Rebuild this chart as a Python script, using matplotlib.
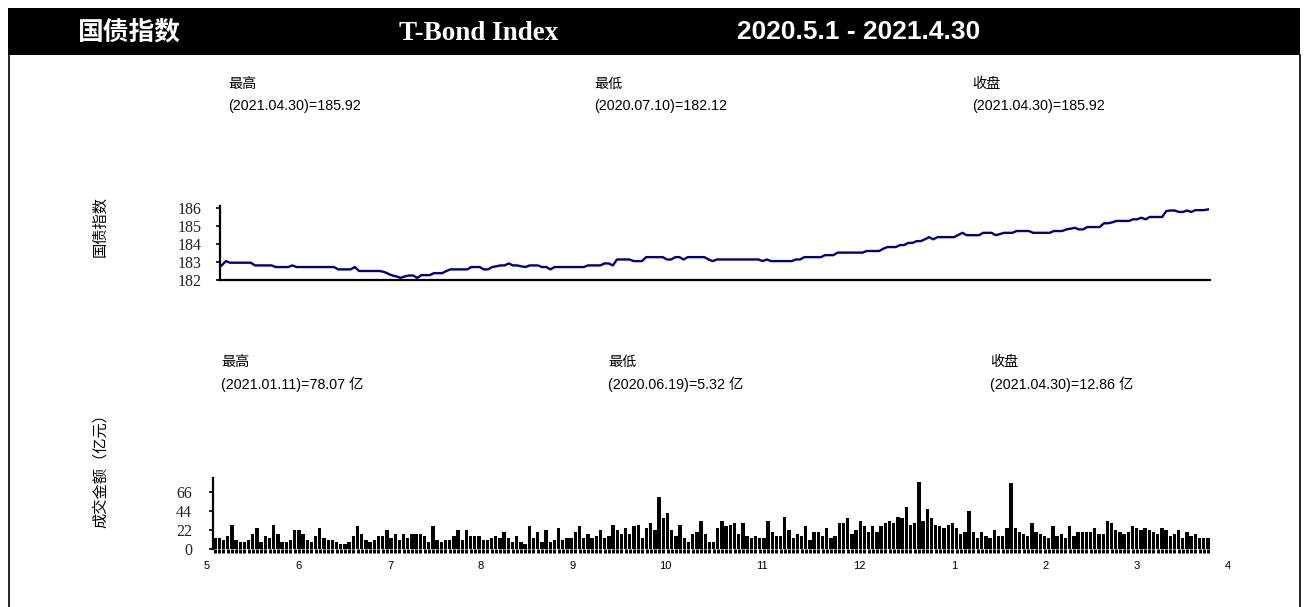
import matplotlib
matplotlib.use('Agg')
import matplotlib.pyplot as plt
from matplotlib.patches import Rectangle
from matplotlib.lines import Line2D

W, H = 1306, 607

# ---------------- data ----------------
index_values = [
    182.81, 183.05, 182.96, 182.96, 182.96, 182.96, 182.96, 182.96, 182.81, 182.81,
    182.81, 182.81, 182.81, 182.72, 182.72, 182.72, 182.72, 182.81, 182.72, 182.72,
    182.72, 182.72, 182.72, 182.72, 182.72, 182.72, 182.72, 182.72, 182.59, 182.59,
    182.59, 182.59, 182.72, 182.50, 182.50, 182.50, 182.50, 182.50, 182.50, 182.45,
    182.35, 182.25, 182.20, 182.12, 182.20, 182.25, 182.25, 182.12, 182.27, 182.27,
    182.27, 182.38, 182.38, 182.38, 182.50, 182.59, 182.59, 182.59, 182.59, 182.59,
    182.72, 182.72, 182.72, 182.59, 182.59, 182.72, 182.76, 182.81, 182.81, 182.92,
    182.81, 182.81, 182.76, 182.72, 182.81, 182.81, 182.81, 182.72, 182.72, 182.59,
    182.72, 182.72, 182.72, 182.72, 182.72, 182.72, 182.72, 182.72, 182.81, 182.81,
    182.81, 182.81, 182.92, 182.92, 182.81, 183.14, 183.14, 183.14, 183.14, 183.05,
    183.05, 183.05, 183.27, 183.27, 183.27, 183.27, 183.27, 183.14, 183.14, 183.27,
    183.27, 183.14, 183.27, 183.27, 183.27, 183.27, 183.27, 183.14, 183.05, 183.14,
    183.14, 183.14, 183.14, 183.14, 183.14, 183.14, 183.14, 183.14, 183.14, 183.14,
    183.05, 183.14, 183.05, 183.05, 183.05, 183.05, 183.05, 183.05, 183.14, 183.14,
    183.27, 183.27, 183.27, 183.27, 183.27, 183.38, 183.38, 183.38, 183.52, 183.52,
    183.52, 183.52, 183.52, 183.52, 183.52, 183.61, 183.61, 183.61, 183.61, 183.74,
    183.83, 183.83, 183.83, 183.94, 183.94, 184.06, 184.06, 184.16, 184.16, 184.26,
    184.38, 184.26, 184.38, 184.38, 184.38, 184.38, 184.38, 184.50, 184.62, 184.49,
    184.49, 184.49, 184.49, 184.62, 184.62, 184.62, 184.49, 184.55, 184.62, 184.62,
    184.62, 184.72, 184.72, 184.72, 184.72, 184.62, 184.62, 184.62, 184.62, 184.62,
    184.72, 184.72, 184.72, 184.81, 184.85, 184.90, 184.81, 184.81, 184.94, 184.94,
    184.94, 184.94, 185.15, 185.15, 185.20, 185.28, 185.28, 185.28, 185.28, 185.37,
    185.37, 185.46, 185.37, 185.50, 185.50, 185.50, 185.50, 185.83, 185.86, 185.86,
    185.78, 185.78, 185.86, 185.78, 185.88, 185.88, 185.88, 185.92,
]

turnover_values = [
    12.3, 12.3, 10, 14.6, 28, 10, 7.7, 7.7, 10, 16.9,
    23.8, 7.7, 14.6, 12.3, 28, 16.9, 7.7, 7.7, 10, 21.5,
    21.5, 16.9, 10, 7.7, 14.6, 23.8, 12.3, 10, 10, 7.7,
    5.6, 5.32, 7.7, 14.6, 26.2, 16.9, 10, 7.7, 10, 14.6,
    14.6, 21.5, 12.3, 16.9, 10, 16.9, 12.3, 16.9, 16.9, 16.9,
    14.6, 7.7, 26.2, 10, 7.7, 10, 10, 14.6, 21.5,
    10, 21.5, 14.6, 14.6, 14.6, 10, 10, 12.3, 14.6, 12.3,
    19.2, 12.3, 7.7, 14.6, 7.7, 5.8, 26.2, 12.3, 19.2, 7.7,
    21.5, 7.7, 10, 23.8, 10, 12.3, 12.3, 19.2, 26.2, 12.3,
    16.9, 12.3, 14.6, 21.5, 12.3, 14.6, 28, 21.5, 16.9, 23.8,
    16.9, 26.2, 28, 12.3, 23.8, 30.4, 21.5, 60.4, 35.4, 41.9,
    21.5, 14.6, 28, 12.3, 7.7, 16.9, 19.2, 32.7, 16.9,
    7.7, 7.7, 23.8, 32.7, 26.2, 28, 30.4, 16.9, 30.4, 14.6,
    12.3, 14.6, 12.3, 12.3, 32.7, 19.2, 14.6, 14.6, 37.3, 21.5,
    12.3, 16.9, 14.6, 26.2, 10, 19.2, 19.2, 14.6, 23.8, 12.3,
    14.6, 30.4, 30.4, 35.4, 16.9, 21.5, 32.7, 26.2, 19.2, 26.2,
    19.2, 26.2, 30.4, 32.7, 30.4, 37.3, 35.4, 48.8, 28, 30.4,
    78.07, 32.7, 46.5, 35.4, 28, 26.2, 23.8, 28, 30.4,
    23.8, 16.9, 19.2, 44.2, 19.2, 12.3, 19.2, 14.6, 12.3, 21.5,
    14.6, 14.6, 23.8, 76.2, 23.8, 19.2, 16.9, 14.6, 30.4, 19.2,
    16.9, 14.6, 12.3, 26.2, 14.6, 16.9, 12.3, 26.2, 14.6, 19.2,
    19.2, 19.2, 19.2, 23.8, 16.9, 16.9, 32.7, 30.4, 21.5, 19.2,
    16.9, 19.2, 26.2, 23.8, 21.5, 23.8, 21.5, 19.2, 16.9, 23.8,
    21.5, 14.6, 16.9, 21.5, 12.3, 19.2, 14.6, 16.9, 12.3, 12.3, 12.86,
]

month_labels = ['5', '6', '7', '8', '9', '10', '11', '12', '1', '2', '3', '4']
index_yticks = [182, 183, 184, 185, 186]
turnover_yticks = [0, 22, 44, 66]

title_cn = '国债指数'
title_en = 'T-Bond Index'
title_period = '2020.5.1 - 2021.4.30'
index_notes = [('最高', '(2021.04.30)=185.92'), ('最低', '(2020.07.10)=182.12'), ('收盘', '(2021.04.30)=185.92')]
turnover_notes = [('最高', '(2021.01.11)=78.07 亿'), ('最低', '(2020.06.19)=5.32 亿'), ('收盘', '(2021.04.30)=12.86 亿')]
index_ylabel = '国债指数'
turnover_ylabel = '成交金额（亿元）'

# ---------------- layout helpers ----------------
SANS = ['Liberation Sans', 'Noto Sans CJK SC', 'DejaVu Sans']
CJK = ['Noto Sans CJK SC', 'DejaVu Sans']
SERIF = ['Liberation Serif', 'DejaVu Serif']


def fx(px):
    return px / W


def fy(py):
    return 1 - py / H


fig = plt.figure(figsize=(W / 100, H / 100), dpi=100)

# header bar and frame
fig.patches.append(Rectangle((fx(8), fy(55)), fx(1300) - fx(8), fy(8) - fy(55),
                             transform=fig.transFigure, facecolor='black', edgecolor='none', zorder=0))
fig.lines.append(Line2D([fx(8.5), fx(8.5)], [fy(55), 0], transform=fig.transFigure, color='black', lw=1.2))
fig.lines.append(Line2D([fx(1299.5), fx(1299.5)], [fy(55), 0], transform=fig.transFigure, color='black', lw=1.2))

fig.text(fx(129), fy(32), title_cn, family=CJK, weight='bold', fontsize=18.5, color='white', ha='center', va='center')
fig.text(fx(479), fy(33.5), title_en, family=SERIF, weight='bold', fontsize=19.5, color='white', ha='center', va='center')
fig.text(fx(859), fy(32), title_period, family=SANS, weight='bold', fontsize=19, color='white', ha='center', va='center')

# annotations
for (head, body), x in zip(index_notes, [228, 594, 972]):
    fig.text(fx(x), fy(84), head, family=CJK, fontsize=10.2, ha='left', va='center')
    fig.text(fx(x), fy(106), body, family=SANS, fontsize=10.3, ha='left', va='center')
for (head, body), x in zip(turnover_notes, [221, 608, 990]):
    fig.text(fx(x), fy(362), head, family=CJK, fontsize=10.2, ha='left', va='center')
    fig.text(fx(x), fy(384), body, family=SANS, fontsize=10.3, ha='left', va='center')

fig.text(fx(100), fy(226), index_ylabel, family=CJK, fontsize=11, rotation=90, ha='center', va='center')
fig.text(fx(100), fy(467), turnover_ylabel, family=CJK, fontsize=11, rotation=90, ha='center', va='center')

# ---------------- top: index line ----------------
ax1 = fig.add_axes([fx(220), fy(280), fx(1210) - fx(220), fy(206) - fy(280)])
xs = list(range(len(index_values)))
ax1.plot(xs, index_values, color='#000080', lw=1.7, solid_joinstyle='round')
ax1.set_xlim(-0.4, len(index_values) - 0.5)
ax1.set_ylim(182, 186.11)
ax1.set_yticks(index_yticks)
ax1.set_yticklabels([str(v) for v in index_yticks], family=SERIF, fontsize=11.5, color='#222222')
ax1.set_xticks([])
for s in ['top', 'right']:
    ax1.spines[s].set_visible(False)
ax1.spines['left'].set_linewidth(1.6)
ax1.spines['bottom'].set_linewidth(1.6)
ax1.tick_params(axis='y', direction='out', length=3, width=1.2, pad=10)
ax1.patch.set_alpha(0)

# ---------------- bottom: turnover bars ----------------
ax2 = fig.add_axes([fx(213), fy(549), fx(1210) - fx(213), fy(478) - fy(549)])
bx = list(range(len(turnover_values)))
ax2.bar(bx, turnover_values, width=0.8, color='black', edgecolor='none')
ax2.set_xlim(-0.5, len(turnover_values) - 0.5)
ax2.set_ylim(0, 82.2)
ax2.set_yticks(turnover_yticks)
ax2.set_yticklabels([str(v) for v in turnover_yticks], family=SERIF, fontsize=11.5, color='#222222')
ax2.set_xticks([])
ax2.set_xticks(bx, minor=True)
ax2.tick_params(axis='x', which='minor', direction='out', length=3, width=2.1, color='black')
ax2.tick_params(axis='y', direction='out', length=3, width=1.2, pad=12)
for s in ['top', 'right', 'bottom']:
    ax2.spines[s].set_visible(False)
ax2.spines['left'].set_linewidth(1.6)
ax2.patch.set_alpha(0)

# month labels along the bar axis
px_per_bar = (1208 - 215) / (len(turnover_values) - 1)
for lab, px in zip(month_labels, [207, 298, 390, 481, 573, 665, 762, 859, 954, 1046, 1137, 1228]):
    ax2.text((px - 215) / px_per_bar, -0.24, lab, transform=ax2.get_xaxis_transform(),
             family=SANS, fontsize=8, ha='center', va='center', clip_on=False)

fig.savefig('out.png', dpi=100)
